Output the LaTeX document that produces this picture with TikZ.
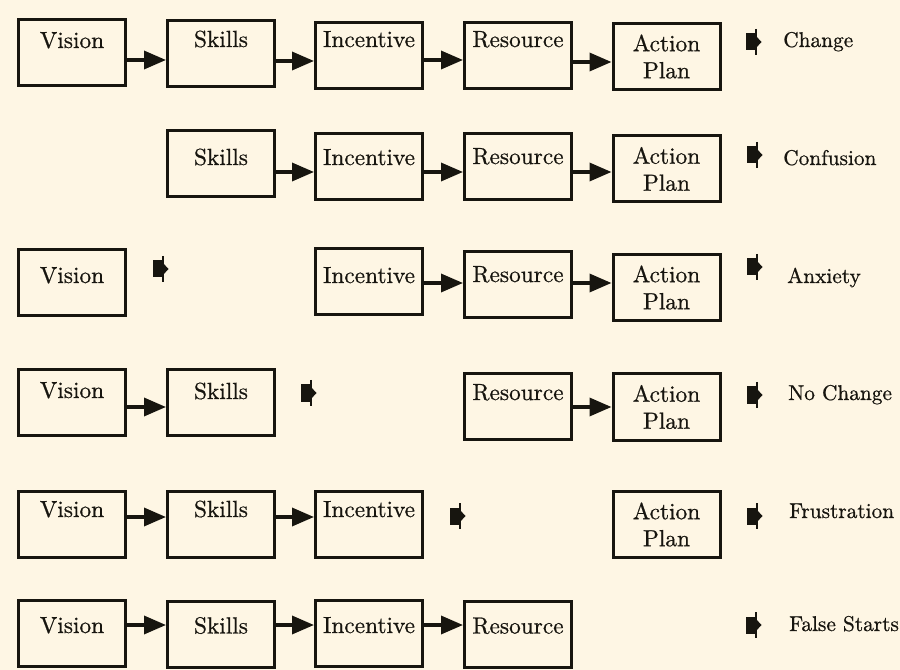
\documentclass[tikz,border=0pt]{standalone}
\usepackage{fontspec}
\setmainfont{lmroman10-regular}[Extension=.otf, FakeBold=0.7]
\usetikzlibrary{arrows.meta}
\definecolor{paper}{HTML}{FEF6E4}
\definecolor{ink}{HTML}{17150F}
\tikzset{
  x=0.75pt, y=-0.75pt,
  lbl/.style={font=\fontsize{17.5}{20.25}\selectfont, text=ink},
  % single-line box; the argument lifts or drops the word inside
  box/.style={lbl, draw=ink, line width=2.25pt, fill=paper,
    minimum width=80.25pt, minimum height=49.5pt, inner sep=0pt,
    text height=12pt, text depth=#1},
  box/.default=12pt,
  planbox/.style={lbl, draw=ink, line width=2.25pt, fill=paper,
    minimum width=80.25pt, minimum height=49.5pt, inner sep=0pt, align=center},
  conn/.style={draw=ink, line width=2.6pt, -{Triangle[length=16.5pt,width=13.5pt]}},
  outcome/.style={lbl, font=\fontsize{16}{18}\selectfont, anchor=base west, inner sep=0pt},
  stopmark/.pic={
    \fill[ink] (0,-8.5) rectangle (10,8.5);
    \fill[ink] (9.5,-6.5) -- (15.5,0) -- (9.5,6.5) -- cycle;
    \draw[ink, line width=1pt] (10,-13) -- (10,13);
  }
}
\begin{document}
\begin{tikzpicture}
\useasboundingbox (0,0) rectangle (900,670);
\fill[paper] (0,0) rectangle (900,670);
\clip (0,0) rectangle (900,670);

% Row 1: Change
\node[box=18.75pt] (v1) at (72,52.5) {Vision};
\node[box=21.75pt] (s1) at (221,53.5) {Skills};
\node[box=25.5pt]  (i1) at (369,56) {Incentive};
\node[box=25.5pt]  (r1) at (518,56) {Resource};
\node[planbox]     (a1) at (666.5,56.5) {Action\\Plan};
\draw[conn] (v1.east |- 0,60) -- (s1.west |- 0,60);
\draw[conn] (s1.east |- 0,61) -- (i1.west |- 0,61);
\draw[conn] (i1.east |- 0,60) -- (r1.west |- 0,60);
\draw[conn] (r1.east |- 0,62) -- (a1.west |- 0,62);
\pic at (746,42) {stopmark};
\node[outcome] (o1) at (783,47) {Change};

% Row 2: Confusion
\node[box=10.5pt]  (s2) at (221,164) {Skills};
\node[box=14.25pt] (i2) at (369,166.5) {Incentive};
\node[box=16.5pt]  (r2) at (518,167) {Resource};
\node[planbox]     (a2) at (666.5,169) {Action\\Plan};
\draw[conn] (s2.east |- 0,172) -- (i2.west |- 0,172);
\draw[conn] (i2.east |- 0,172) -- (r2.west |- 0,172);
\draw[conn] (r2.east |- 0,172) -- (a2.west |- 0,172);
\pic at (747,155) {stopmark};
\node[outcome] (o2) at (783,165) {Confusion};

% Row 3: Anxiety
\node[box=11.25pt] (v3) at (72,282.5) {Vision};
\node[box=10.5pt]  (i3) at (369,282) {Incentive};
\node[box=15.75pt] (r3) at (518,284.5) {Resource};
\node[planbox]     (a3) at (666.5,287.5) {Action\\Plan};
\draw[conn] (i3.east |- 0,283) -- (r3.west |- 0,283);
\draw[conn] (r3.east |- 0,283) -- (a3.west |- 0,283);
\pic at (153,269) {stopmark};
\pic at (747,267) {stopmark};
\node[outcome] (o3) at (787,283) {Anxiety};

% Row 4: No Change
\node[box=18.75pt] (v4) at (72,402.5) {Vision};
\node[box=17.25pt] (s4) at (221,402.5) {Skills};
\node[box=21.75pt] (r4) at (518,406.5) {Resource};
\node[planbox]     (a4) at (666.5,407) {Action\\Plan};
\draw[conn] (v4.east |- 0,407) -- (s4.west |- 0,407);
\draw[conn] (r4.east |- 0,407) -- (a4.west |- 0,407);
\pic at (301,393) {stopmark};
\pic at (747,395) {stopmark};
\node[outcome] (o4) at (788,400) {No Change};

% Row 5: Frustration
\node[box=22.5pt] (v5) at (72,524) {Vision};
\node[box=22.5pt] (s5) at (221,524) {Skills};
\node[box=22.5pt] (i5) at (369,524) {Incentive};
\node[planbox]    (a5) at (666.5,524.5) {Action\\Plan};
\draw[conn] (v5.east |- 0,517) -- (s5.west |- 0,517);
\draw[conn] (s5.east |- 0,517) -- (i5.west |- 0,517);
\pic at (450,516) {stopmark};
\pic at (747,516) {stopmark};
\node[outcome] (o5) at (789,518) {Frustration};

% Row 6: False Starts
\node[box=12.75pt] (v6) at (72,633.5) {Vision};
\node[box=12.75pt] (s6) at (221,634) {Skills};
\node[box=12.75pt] (i6) at (369,633.5) {Incentive};
\node[box=12.75pt] (r6) at (518,634) {Resource};
\draw[conn] (v6.east |- 0,625) -- (s6.west |- 0,625);
\draw[conn] (s6.east |- 0,625) -- (i6.west |- 0,625);
\draw[conn] (i6.east |- 0,625) -- (r6.west |- 0,625);
\pic at (746,625) {stopmark};
\node[outcome] (o6) at (789,631) {False Starts};
\end{tikzpicture}
\end{document}
